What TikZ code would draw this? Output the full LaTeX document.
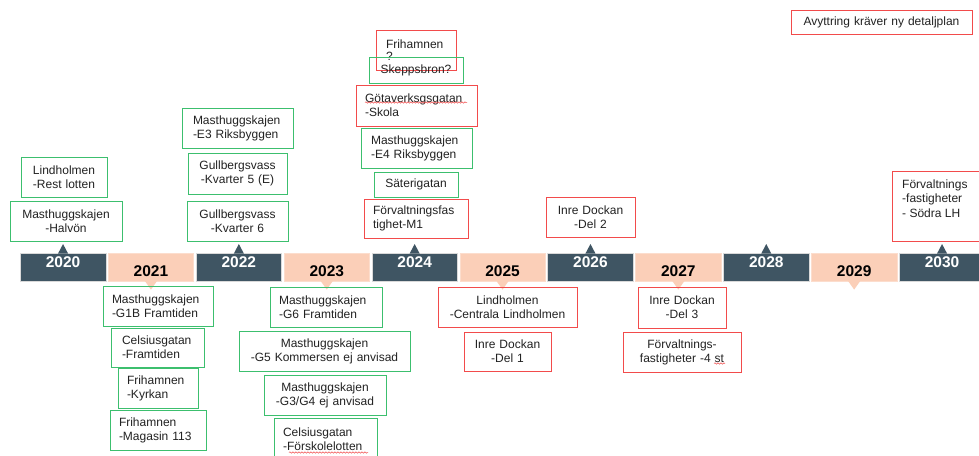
\documentclass[tikz,border=0pt]{standalone}
\usepackage{fontspec}
\setmainfont{Liberation Sans}
\usetikzlibrary{decorations.pathmorphing}
\definecolor{dk}{HTML}{3F5563}
\definecolor{pc}{HTML}{FBCFB8}
\definecolor{gr}{HTML}{3CBF6E}
\definecolor{rd}{HTML}{F24B4B}
\definecolor{tx}{HTML}{222222}
\newcommand\boxfont{\fontsize{12}{14}\selectfont}
\tikzset{
  gbox/.style={draw=gr, line width=0.9pt},
  rbox/.style={draw=rd, line width=0.9pt},
  dblk/.style={fill=dk, draw=gray!30, line width=0.6pt, minimum width=85.5pt, minimum height=28pt, inner sep=0pt, anchor=north west},
  pblk/.style={fill=pc, draw=pc!70!white, line width=0.6pt, minimum width=85.5pt, minimum height=28pt, inner sep=0pt, anchor=north west},
  dyear/.style={text=white, font=\fontsize{15.5}{16}\selectfont\bfseries, inner sep=0pt},
  pyear/.style={text=black, font=\fontsize{15.5}{16}\selectfont\bfseries, inner sep=0pt},
  wavy/.style={draw=rd, line width=0.5pt, decorate, decoration={snake, amplitude=0.7pt, segment length=3pt}}
}
% #1 name, #2 style, #3 x1, #4 y1, #5 x2, #6 y2, #7 pad, #8 align, #9 text
\newcommand\tbox[9]{%
  \pgfmathsetmacro\bh{#6-#4}%
  \pgfmathsetmacro\tw{#5-#3-2*#7}%
  \node[#2, anchor=north west, inner xsep=#7pt, inner ysep=0pt, outer sep=0pt,
        text width=\tw pt, minimum height=\bh pt, align=#8, font=\boxfont, text=tx]
        (#1) at (#3,#4) {#9};}
\begin{document}
\begin{tikzpicture}[x=1pt, y=-1pt]
\useasboundingbox (0,0) rectangle (979,455);
\fill[white] (0,0) rectangle (979,455);
\clip (0,0) rectangle (979,455);

% timeline
\foreach \i in {0,...,10}{
  \pgfmathtruncatemacro\yr{2020+\i}
  \pgfmathsetmacro\xl{20+87.9*\i}
  \ifodd\i
    \node[pblk] (b\yr) at (\xl,253) {};
    \fill[pc] ([xshift=-6pt,yshift=0.5pt]b\yr.south) -- ([yshift=-8pt]b\yr.south) -- ([xshift=6pt,yshift=0.5pt]b\yr.south) -- cycle;
    \node[pyear] (t\yr) at ([yshift=-4pt]b\yr.center) {\yr};
  \else
    \node[dblk] (b\yr) at (\xl,253) {};
    \fill[dk] ([xshift=-5pt,yshift=-0.5pt]b\yr.north) -- ([yshift=9pt]b\yr.north) -- ([xshift=5pt,yshift=-0.5pt]b\yr.north) -- cycle;
    \node[dyear] (t\yr) at ([yshift=5pt]b\yr.center) {\yr};
  \fi
}

% upper boxes
\tbox{lindR}{gbox}{21}{157}{107}{197}{2}{center}{Lindholmen\\-Rest~lotten}
\tbox{mhH}{gbox}{10}{201}{122}{241}{2}{center}{Masthuggskajen\\-Halvön}
\tbox{mhEthree}{gbox}{182}{108}{293}{148}{11}{left}{Masthuggskajen\\-E3~Riksbyggen}
\tbox{gvFive}{gbox}{188}{153}{287}{194}{2}{center}{Gullbergsvass\\-Kvarter~5~(E)}
\tbox{gvSix}{gbox}{187}{201}{288}{241}{2}{center}{Gullbergsvass\\-Kvarter~6}
\node[rbox, anchor=north west, inner xsep=10pt, inner ysep=0pt, outer sep=0pt, text width=60pt,
      minimum height=40pt, align=left, font=\fontsize{12}{12}\selectfont, text=tx] (fri) at (376,30) {Frihamnen\\?};
\tbox{skb}{gbox}{369}{57}{463}{83}{2}{center}{Skeppsbron?}
\tbox{gota}{rbox}{356}{85}{477}{126}{9}{left}{Götaverksgsgatan\\-Skola}
\tbox{mhEfour}{gbox}{361}{128}{472}{168}{10}{left}{Masthuggskajen\\-E4~Riksbyggen}
\tbox{sat}{gbox}{374}{172}{458}{197}{2}{center}{Säterigatan}
\tbox{fmone}{rbox}{364}{199}{468}{238}{9}{left}{Förvaltningsfas\\tighet-M1}
\tbox{idTwo}{rbox}{546}{197}{635}{237}{2}{center}{Inre~Dockan\\-Del~2}
\tbox{avy}{rbox}{791}{10}{972}{34}{2}{center}{Avyttring~kräver~ny~detaljplan}
\draw[rbox] (892,171) rectangle (992,241);
\node[anchor=north west, inner sep=0pt, align=left, font=\fontsize{12}{14.5}\selectfont, text=tx] (sodra) at (902,179.5) {Förvaltnings\\-fastigheter\\- Södra~LH};

% lower boxes
\tbox{gOneB}{gbox}{103}{286}{213}{326}{9}{left}{Masthuggskajen\\-G1B~Framtiden}
\tbox{celF}{gbox}{111}{328}{204}{367}{11}{left}{Celsiusgatan\\-Framtiden}
\tbox{friK}{gbox}{118}{368}{198}{408}{9}{left}{Frihamnen\\-Kyrkan}
\tbox{friM}{gbox}{110}{410}{206}{450}{9}{left}{Frihamnen\\-Magasin~113}
\tbox{gSix}{gbox}{270}{287}{382}{327}{9}{left}{Masthuggskajen\\-G6~Framtiden}
\tbox{gFive}{gbox}{239}{331}{410}{371}{2}{center}{Masthuggskajen\\-G5~Kommersen~ej~anvisad}
\tbox{gThree}{gbox}{264}{375}{386}{415}{2}{center}{Masthuggskajen\\-G3/G4~ej~anvisad}
\tbox{celFs}{gbox}{274}{418}{377}{460}{9}{left}{Celsiusgatan\\-Förskolelotten}
\tbox{lindC}{rbox}{438}{287}{577}{327}{2}{center}{Lindholmen\\-Centrala~Lindholmen}
\tbox{idOne}{rbox}{464}{332}{551}{371}{2}{center}{Inre~Dockan\\-Del~1}
\tbox{idThree}{rbox}{638}{287}{726}{328}{2}{center}{Inre~Dockan\\-Del~3}
\tbox{fvFour}{rbox}{623}{332}{741}{372}{2}{center}{Förvaltnings-\\fastigheter~-4~st}

% spell-check underlines
\draw[wavy] (365,102.5) -- (467,102.5);
\draw[wavy] (289,452.5) -- (368,452.5);
\draw[wavy] (714,363.5) -- (725,363.5);
\end{tikzpicture}
\end{document}
